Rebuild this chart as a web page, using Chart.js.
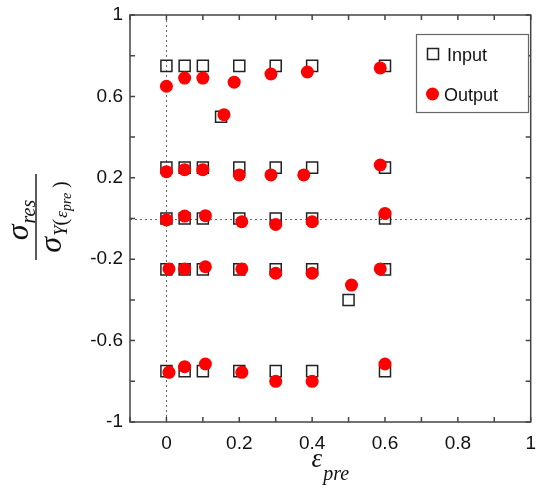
<!DOCTYPE html>
<html>
<head>
<meta charset="utf-8">
<script src="https://cdn.jsdelivr.net/npm/chart.js@4/dist/chart.umd.min.js"></script>
<style>
  html, body { margin: 0; padding: 0; background: #fff; }
</style>
</head>
<body>
<canvas id="chart" width="540" height="489"></canvas>
<script>
// Input (target residual stress) and Output (measured) points
const inputX = [0, 0.05, 0.1, 0.2, 0.3, 0.4, 0.6, 0.15,
                0, 0.05, 0.1, 0.2, 0.3, 0.4, 0.6,
                0, 0.05, 0.1, 0.2, 0.3, 0.4, 0.6,
                0, 0.05, 0.1, 0.2, 0.3, 0.4, 0.6, 0.5,
                0, 0.05, 0.1, 0.2, 0.3, 0.4, 0.6];
const inputY = [0.75, 0.75, 0.75, 0.75, 0.75, 0.75, 0.75, 0.5,
                0.25, 0.25, 0.25, 0.25, 0.25, 0.25, 0.25,
                0, 0, 0, 0, 0, 0, 0,
                -0.25, -0.25, -0.25, -0.25, -0.25, -0.25, -0.25, -0.4,
                -0.75, -0.75, -0.75, -0.75, -0.75, -0.75, -0.75];

const outputX = [0, 0.05, 0.1, 0.186, 0.287, 0.387, 0.587, 0.158,
                 0, 0.05, 0.1, 0.2, 0.287, 0.377, 0.587,
                 0, 0.05, 0.107, 0.207, 0.3, 0.4, 0.6,
                 0.007, 0.05, 0.107, 0.207, 0.3, 0.4, 0.587, 0.508,
                 0.007, 0.05, 0.107, 0.207, 0.3, 0.4, 0.6];
const outputY = [0.65, 0.69, 0.69, 0.67, 0.71, 0.72, 0.74, 0.51,
                 0.23, 0.24, 0.24, 0.214, 0.214, 0.214, 0.263,
                 -0.007, 0.012, 0.014, -0.016, -0.029, -0.016, 0.025,
                 -0.248, -0.248, -0.237, -0.248, -0.269, -0.269, -0.248, -0.327,
                 -0.756, -0.728, -0.715, -0.756, -0.8, -0.8, -0.715];

const xLabels = [0, 0.2, 0.4, 0.6, 0.8, 1];
const yLabels = [-1, -0.6, -0.2, 0.2, 0.6, 1];

const toPoints = (xs, ys) => xs.map((x, i) => ({ x: x, y: ys[i] }));
const tickFont = { family: '"Liberation Sans", Arial, sans-serif', size: 19 };

// dotted zero lines
const zeroLines = {
  id: 'zeroLines',
  beforeDatasetsDraw(chart) {
    const { ctx, chartArea: a, scales: { x, y } } = chart;
    ctx.save();
    ctx.strokeStyle = '#666';
    ctx.lineWidth = 1;
    ctx.setLineDash([2, 3]);
    const x0 = Math.round(x.getPixelForValue(0)) + 0.5;
    const y0 = Math.round(y.getPixelForValue(0)) + 0.5;
    ctx.beginPath();
    ctx.moveTo(x0, a.top); ctx.lineTo(x0, a.bottom);
    ctx.moveTo(a.left, y0); ctx.lineTo(a.right, y0);
    ctx.stroke();
    ctx.restore();
  }
};

// box frame + inward ticks on all sides
const frame = {
  id: 'frame',
  afterDatasetsDraw(chart) {
    const { ctx, chartArea: a, scales: { x, y } } = chart;
    const len = 5;
    ctx.save();
    ctx.strokeStyle = '#444';
    ctx.lineWidth = 1.5;
    ctx.beginPath();
    x.ticks.forEach(t => {
      const px = x.getPixelForValue(t.value);
      ctx.moveTo(px, a.bottom); ctx.lineTo(px, a.bottom - len);
      ctx.moveTo(px, a.top); ctx.lineTo(px, a.top + len);
    });
    y.ticks.forEach(t => {
      const py = y.getPixelForValue(t.value);
      ctx.moveTo(a.left, py); ctx.lineTo(a.left + len, py);
      ctx.moveTo(a.right, py); ctx.lineTo(a.right - len, py);
    });
    ctx.stroke();
    ctx.strokeRect(a.left, a.top, a.right - a.left, a.bottom - a.top);
    ctx.restore();
  }
};

// legend box inside the plot
const boxLegend = {
  id: 'boxLegend',
  afterDraw(chart) {
    const { ctx } = chart;
    const ds = chart.data.datasets;
    ctx.save();
    ctx.fillStyle = '#fff';
    ctx.fillRect(416, 34, 112, 78);
    ctx.strokeStyle = '#666';
    ctx.lineWidth = 1.2;
    ctx.strokeRect(416.5, 34.5, 112, 78);
    // Input
    ctx.strokeStyle = ds[0].borderColor;
    ctx.lineWidth = ds[0].borderWidth;
    ctx.strokeRect(427.5, 48.5, 11, 11);
    // Output
    ctx.fillStyle = ds[1].backgroundColor;
    ctx.beginPath();
    ctx.arc(432.5, 94, 6.5, 0, Math.PI * 2);
    ctx.fill();
    ctx.fillStyle = '#111';
    ctx.font = '18px "Liberation Sans", Arial, sans-serif';
    ctx.textBaseline = 'alphabetic';
    ctx.fillText(ds[0].label, 447, 61);
    ctx.fillText(ds[1].label, 444, 101);
    ctx.restore();
  }
};

function drawRuns(ctx, runs, startX) {
  let cx = startX;
  runs.forEach(r => {
    ctx.font = r.font;
    ctx.fillText(r.t, cx + (r.dx || 0), r.dy);
    cx += ctx.measureText(r.t).width + (r.dx || 0);
  });
  return cx;
}
function runsWidth(ctx, runs) {
  let w = 0;
  runs.forEach(r => { ctx.font = r.font; w += ctx.measureText(r.t).width + (r.dx || 0); });
  return w;
}

// axis titles (fraction on y, epsilon_pre on x)
const titles = {
  id: 'titles',
  afterDraw(chart) {
    const { ctx, chartArea: a } = chart;
    const serif = '"Liberation Serif", "DejaVu Serif", serif';
    ctx.save();
    ctx.fillStyle = '#111';
    ctx.textBaseline = 'alphabetic';

    // x title
    const xRuns = [
      { t: 'ε', font: 'italic 27px ' + serif, dy: 467 },
      { t: 'pre', font: 'italic 20px ' + serif, dy: 480, dx: 1 }
    ];
    const xc = (a.left + a.right) / 2;
    drawRuns(ctx, xRuns, xc - runsWidth(ctx, xRuns) / 2);

    // y title, rotated
    ctx.translate(36, 217);
    ctx.rotate(-Math.PI / 2);
    ctx.strokeStyle = '#222';
    ctx.lineWidth = 1.5;
    ctx.beginPath();
    ctx.moveTo(-43, 0); ctx.lineTo(43, 0);
    ctx.stroke();
    const num = [
      { t: 'σ', font: 'italic 32px ' + serif, dy: -8 },
      { t: 'res', font: 'italic 20px ' + serif, dy: -1, dx: 1 }
    ];
    drawRuns(ctx, num, -runsWidth(ctx, num) / 2 - 3);
    const den = [
      { t: 'σ', font: 'italic 32px ' + serif, dy: 25 },
      { t: 'Y', font: 'italic 19px ' + serif, dy: 31, dx: 1 },
      { t: '(', font: '20px ' + serif, dy: 31 },
      { t: 'ε', font: 'italic 17px ' + serif, dy: 31, dx: 1 },
      { t: 'pre', font: 'italic 14px ' + serif, dy: 35 },
      { t: ' )', font: '20px ' + serif, dy: 31 }
    ];
    drawRuns(ctx, den, -runsWidth(ctx, den) / 2);
    ctx.restore();
  }
};

new Chart(document.getElementById('chart'), {
  type: 'scatter',
  data: {
    datasets: [{
      label: 'Input',
      data: toPoints(inputX, inputY),
      pointStyle: 'rect',
      pointRadius: 7.8,
      borderColor: '#222',
      borderWidth: 1.5,
      backgroundColor: 'rgba(255,255,255,0)',
      order: 2
    }, {
      label: 'Output',
      data: toPoints(outputX, outputY),
      pointStyle: 'circle',
      pointRadius: 6.5,
      borderWidth: 0,
      borderColor: '#ff0000',
      backgroundColor: '#ff0000',
      order: 1
    }]
  },
  options: {
    responsive: false,
    animation: false,
    events: [],
    layout: { padding: { top: 15, right: 3, left: 0, bottom: 0 } },
    plugins: {
      legend: { display: false },
      tooltip: { enabled: false }
    },
    scales: {
      x: {
        type: 'linear',
        min: -0.1,
        max: 1,
        grid: { display: false, drawTicks: false },
        border: { display: false },
        ticks: {
          stepSize: 0.1,
          autoSkip: false,
          maxRotation: 0,
          padding: 10,
          color: '#111',
          font: tickFont,
          callback: v => {
            const r = Math.round(v * 10) / 10;
            return xLabels.includes(r) ? String(r) : '';
          }
        },
        afterFit: s => { s.height = 67; s.paddingLeft = 0; s.paddingRight = 0; }
      },
      y: {
        min: -1,
        max: 1,
        grid: { display: false, drawTicks: false },
        border: { display: false },
        ticks: {
          stepSize: 0.2,
          autoSkip: false,
          padding: 7,
          color: '#111',
          font: tickFont,
          callback: v => {
            const r = Math.round(v * 10) / 10;
            return yLabels.includes(r) ? String(r) : '';
          }
        },
        afterFit: s => { s.width = 130; s.paddingTop = 0; s.paddingBottom = 0; }
      }
    }
  },
  plugins: [zeroLines, frame, boxLegend, titles]
});
</script>
</body>
</html>
